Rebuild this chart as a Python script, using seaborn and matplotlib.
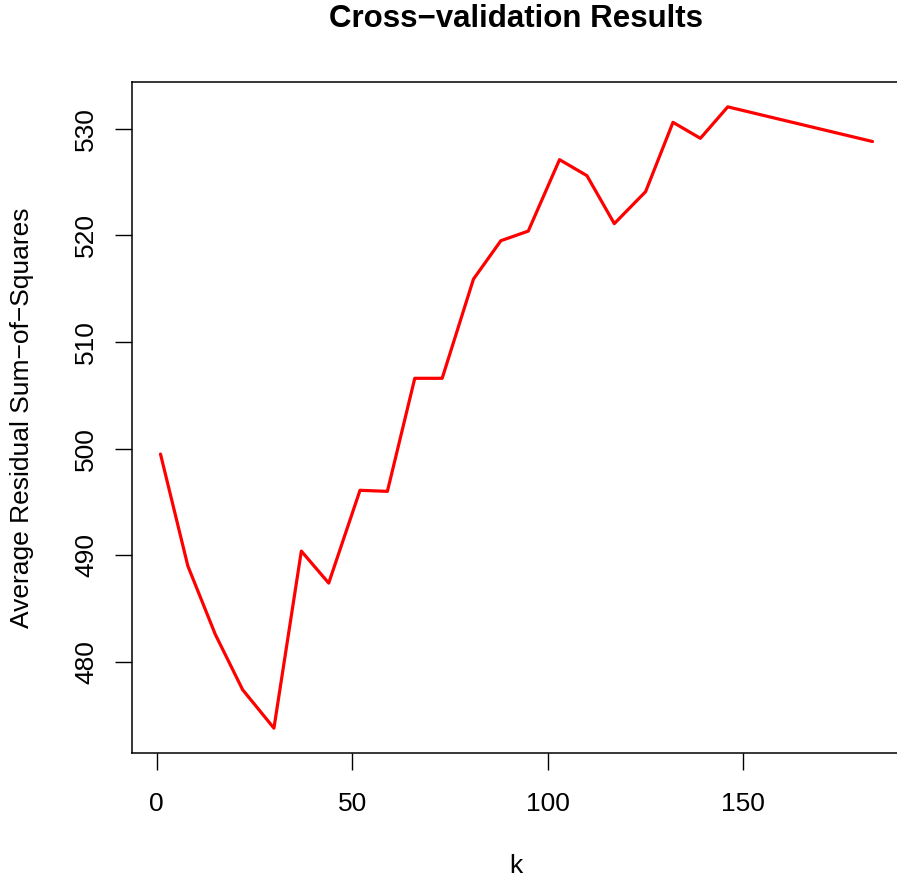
import pandas as pd
import matplotlib
matplotlib.use('Agg')
import matplotlib.pyplot as plt
import seaborn as sns

# Cross-validation results
k_values = [1, 8, 15, 22, 30, 37, 44, 52, 59, 66, 73, 81, 88, 95,
            103, 110, 117, 125, 132, 139, 146, 183]
avg_rss = [499.5, 489.0, 482.6, 477.4, 473.8, 490.4, 487.4, 496.1, 496.0,
           506.6, 506.6, 515.9, 519.5, 520.4, 527.1, 525.6, 521.1, 524.1,
           530.6, 529.1, 532.05, 528.8]
x_ticks = [0, 50, 100, 150]
y_ticks = [480, 490, 500, 510, 520, 530]

df = pd.DataFrame({'k': k_values, 'rss': avg_rss})

sns.set_style('ticks')
plt.rcParams['font.family'] = ['Liberation Sans', 'DejaVu Sans']
plt.rcParams['text.color'] = 'black'
plt.rcParams['axes.labelcolor'] = 'black'

fig = plt.figure(figsize=(8.97, 8.81), dpi=100)
ax = fig.add_axes([132 / 897, 1 - 753 / 881, (901 - 132) / 897, (753 - 82) / 881])

sns.lineplot(data=df, x='k', y='rss', color='#ff0000', linewidth=2.3, ax=ax)

# R-style 4% padding around the data range
xr = max(k_values) - min(k_values)
yr = max(avg_rss) - min(avg_rss)
ax.set_xlim(min(k_values) - 0.04 * xr, max(k_values) + 0.04 * xr)
ax.set_ylim(min(avg_rss) - 0.04 * yr, max(avg_rss) + 0.04 * yr)

ax.set_xticks(x_ticks)
ax.set_yticks(y_ticks)
ax.tick_params(axis='both', direction='out', length=12, width=1, color='black',
               labelcolor='black', labelsize=19)
ax.tick_params(axis='x', pad=16)
ax.tick_params(axis='y', pad=12.5)
plt.setp(ax.get_yticklabels(), rotation=90, va='center')
for s in ax.spines.values():
    s.set_color('black')
    s.set_linewidth(1.1)

ax.set_xlabel('k', fontsize=19, va='center')
ax.xaxis.set_label_coords(0.4994, (753 - 866) / 671)
ax.set_ylabel('Average Residual Sum\u2212of\u2212Squares', fontsize=19, va='center')
ax.yaxis.set_label_coords((22 - 132) / 769, 0.5)
fig.text(516 / 897, 1 - 19 / 881, 'Cross\u2212validation Results', ha='center', va='center',
         fontsize=22.5, fontweight='bold', color='black')

fig.savefig('out.png', dpi=100, facecolor='white')
